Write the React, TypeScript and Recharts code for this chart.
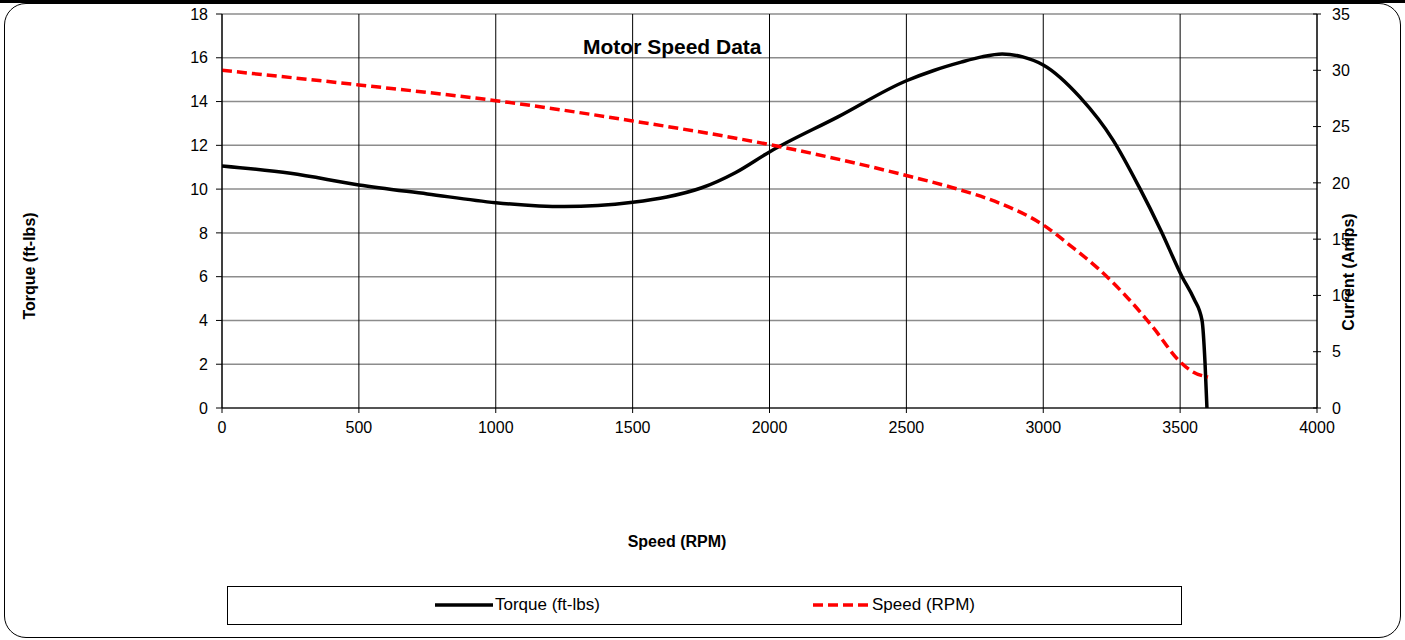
import React from "react";
import { LineChart, Line, CartesianGrid, XAxis, YAxis, Legend } from "recharts";

// torque curve (ft-lbs) vs speed (RPM)
const torqueRpm = [0, 250, 500, 750, 1000, 1250, 1500, 1625, 1750, 1875, 2000, 2250, 2500, 2600, 2700, 2775, 2850, 2925, 3000, 3134, 3255, 3350, 3430, 3507, 3550, 3580, 3591, 3598];
const torqueVals = [11.06, 10.72, 10.19, 9.78, 9.38, 9.2, 9.4, 9.64, 10.05, 10.75, 11.7, 13.3, 14.95, 15.42, 15.8, 16.04, 16.17, 16.04, 15.67, 14.2, 12.24, 10.1, 8.1, 6.0, 5.0, 4.0, 2.05, 0];

// current (amps) vs speed, plotted on the right axis
const speedRpm = [0, 500, 1000, 1500, 2000, 2500, 2700, 2850, 3000, 3100, 3200, 3300, 3400, 3500, 3547, 3602];
const speedVals = [30.0, 28.7, 27.3, 25.5, 23.4, 20.65, 19.35, 18.1, 16.26, 14.4, 12.4, 10.0, 7.2, 4.1, 3.2, 2.75];

const rpmTicks = [0, 500, 1000, 1500, 2000, 2500, 3000, 3500, 4000];
const torqueTicks = [0, 2, 4, 6, 8, 10, 12, 14, 16, 18];
const currentTicks = [0, 5, 10, 15, 20, 25, 30, 35];

const torqueData = torqueRpm.map((rpm, i) => ({ rpm, torque: torqueVals[i] }));
const speedData = speedRpm.map((rpm, i) => ({ rpm, speed: speedVals[i] }));

const FONT = '"Liberation Sans", Arial, sans-serif';
const tickStyle = { fill: "#000", fontSize: 16, fontFamily: FONT };

// right axis ticks cross the axis line in the original
const RightTick = (props: any) => {
  const { x, y, payload } = props;
  return (
    <g>
      <line x1={x - 19} x2={x - 11} y1={y} y2={y} stroke="#000" />
      <text x={x} y={y} dy="0.355em" textAnchor="start" {...tickStyle}>
        {payload.value}
      </text>
    </g>
  );
};

const LegendBox = () => (
  <div
    style={{
      position: "relative",
      width: 955,
      height: 39,
      border: "1px solid #000",
      boxSizing: "border-box",
      background: "#fff",
      fontFamily: FONT,
      fontSize: 17,
      color: "#000",
    }}
  >
    <div style={{ position: "absolute", left: 207, top: 8, display: "flex", alignItems: "center" }}>
      <svg width={58} height={10}>
        <line x1={0} y1={5} x2={58} y2={5} stroke="#000" strokeWidth={3.5} />
      </svg>
      <span style={{ marginLeft: 2 }}>Torque (ft-lbs)</span>
    </div>
    <div style={{ position: "absolute", left: 584, top: 8, display: "flex", alignItems: "center" }}>
      <svg width={58} height={10}>
        <line x1={1} y1={5} x2={58} y2={5} stroke="#ff0000" strokeWidth={3.5} strokeDasharray="10 5" />
      </svg>
      <span style={{ marginLeft: 2 }}>Speed (RPM)</span>
    </div>
  </div>
);

export default function App() {
  return (
    <div style={{ position: "absolute", left: 0, top: 0, width: 1405, height: 640, background: "#fff", overflow: "hidden" }}>
      <div style={{ position: "absolute", left: 0, top: 0, width: 1405, height: 3, background: "#000" }} />
      <div
        style={{
          position: "absolute",
          left: 4,
          top: 3,
          width: 1397,
          height: 635,
          border: "1px solid #000",
          borderRadius: 22,
          boxSizing: "border-box",
        }}
      />
      <div style={{ position: "absolute", left: 0, top: 0 }}>
        <LineChart
          width={1405}
          height={640}
          margin={{ top: 14, right: 48, bottom: 202, left: 162 }}
        >
          <CartesianGrid yAxisId="left" horizontal={true} vertical={false} stroke="#8c8c8c" strokeWidth={1.5} />
          <CartesianGrid yAxisId="left" horizontal={false} vertical={true} stroke="#000" strokeWidth={1} />
          <XAxis
            type="number"
            dataKey="rpm"
            domain={[0, 4000]}
            ticks={rpmTicks}
            allowDataOverflow
            height={30}
            stroke="#000"
            tickSize={5}
            tickMargin={9}
            tick={tickStyle}
          />
          <YAxis
            yAxisId="left"
            domain={[0, 18]}
            ticks={torqueTicks}
            width={60}
            stroke="#000"
            tickSize={6}
            tickMargin={8}
            tick={tickStyle}
          />
          <YAxis
            yAxisId="right"
            orientation="right"
            domain={[0, 35]}
            ticks={currentTicks}
            width={40}
            stroke="#000"
            tickLine={false}
            tickSize={5}
            tickMargin={10}
            tick={<RightTick />}
          />
          <Line
            yAxisId="left"
            data={torqueData}
            dataKey="torque"
            name="Torque (ft-lbs)"
            type="monotone"
            stroke="#000"
            strokeWidth={3.5}
            dot={false}
            isAnimationActive={false}
          />
          <Line
            yAxisId="right"
            data={speedData}
            dataKey="speed"
            name="Speed (RPM)"
            type="monotone"
            stroke="#ff0000"
            strokeWidth={3.5}
            strokeDasharray="10 5"
            dot={false}
            isAnimationActive={false}
          />
          <Legend
            layout="vertical"
            align="center"
            verticalAlign="middle"
            content={() => <LegendBox />}
            wrapperStyle={{ left: 227, top: 586, width: 955, height: 39 }}
          />
        </LineChart>
      </div>
      <div
        style={{ position: "absolute", left: 583, top: 35, fontFamily: FONT, fontWeight: "bold", fontSize: 21, color: "#000", whiteSpace: "nowrap" }}
      >
        Motor Speed Data
      </div>
      <div
        style={{ position: "absolute", left: 677, top: 542, transform: "translate(-50%, -50%)", fontFamily: FONT, fontWeight: "bold", fontSize: 16, whiteSpace: "nowrap" }}
      >
        Speed (RPM)
      </div>
      <div
        style={{ position: "absolute", left: 30, top: 266, transform: "translate(-50%, -50%) rotate(-90deg)", fontFamily: FONT, fontWeight: "bold", fontSize: 16, whiteSpace: "nowrap" }}
      >
        Torque (ft-lbs)
      </div>
      <div
        style={{ position: "absolute", left: 1349, top: 272, transform: "translate(-50%, -50%) rotate(-90deg)", fontFamily: FONT, fontWeight: "bold", fontSize: 16, whiteSpace: "nowrap" }}
      >
        Current (Amps)
      </div>
    </div>
  );
}
